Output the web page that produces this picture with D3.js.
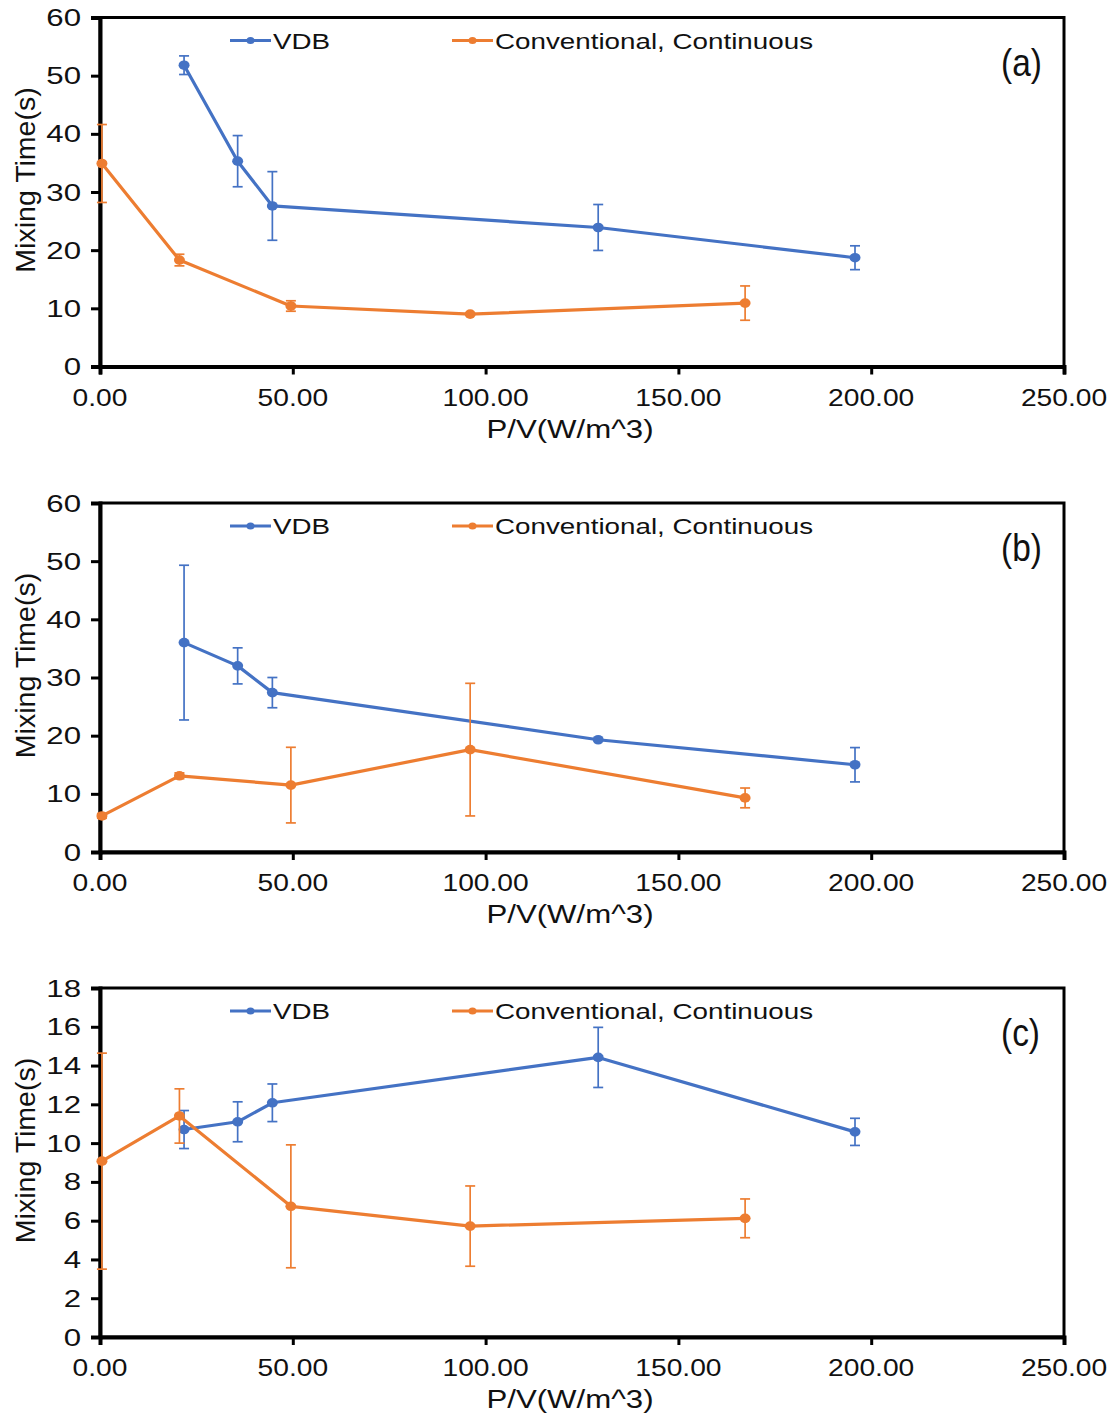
<!DOCTYPE html>
<html>
<head>
<meta charset="utf-8">
<script src="https://cdn.jsdelivr.net/npm/d3@7"></script>
<style>
  html, body { margin: 0; padding: 0; background: #fff; }
  svg { display: block; }
  text { font-family: "Liberation Sans", Arial, Helvetica, sans-serif; fill: #111; }
</style>
</head>
<body>
<svg id="chart" width="1110" height="1417"></svg>
<script>
// Power per volume (W/m^3) for each series
const powerVDB  = [21.8, 35.7, 44.7, 129.2, 195.8];
const powerConv = [0.5, 20.6, 49.5, 96.0, 167.3];

// Panel (a)
const vdbA     = [51.8, 35.3, 27.6, 23.9, 18.7];
const vdbErrA  = [1.6, 4.4, 5.9, 3.95, 2.05];
const convA    = [34.9, 18.3, 10.4, 9.0, 10.9];
const convErrA = [6.7, 1.0, 0.9, 0, 2.95];

// Panel (b)
const vdbB     = [36.0, 32.0, 27.4, 19.3, 15.0];
const vdbErrB  = [13.3, 3.1, 2.6, 0, 2.95];
const convB    = [6.2, 13.1, 11.5, 17.6, 9.3];
const convErrB = [0.4, 0.5, 6.5, 11.4, 1.7];

// Panel (c)
const vdbC     = [10.7, 11.1, 12.08, 14.42, 10.58];
const vdbErrC  = [0.98, 1.03, 0.97, 1.55, 0.7];
const convC    = [9.07, 11.4, 6.74, 5.72, 6.12];
const convErrC = [5.57, 1.4, 3.17, 2.07, 1.0];

const panelLabels = ["(a)", "(b)", "(c)"];
const yMaxes      = [60, 60, 18];
const yTickSteps  = [10, 10, 2];
const xTicks      = [0, 50, 100, 150, 200, 250];
const seriesNames = ["VDB", "Conventional, Continuous"];
const xTitle = "P/V(W/m^3)";
const yTitle = "Mixing Time(s)";

const colors = { vdb: "#4472C4", conv: "#ED7D31" };

const panels = [
  { vdb: vdbA, vdbErr: vdbErrA, conv: convA, convErr: convErrA },
  { vdb: vdbB, vdbErr: vdbErrB, conv: convB, convErr: convErrB },
  { vdb: vdbC, vdbErr: vdbErrC, conv: convC, convErr: convErrC }
];

const svg = d3.select("#chart");
const left = 100, right = 1064;
const panelTops = [17.5, 503, 988];
const plotH = 349;
const SX = 1.2; // horizontal widening of the label type

// place a horizontally-widened text
function wideText(g, x, y, str, size, anchor, sx) {
  return g.append("text")
    .attr("transform", `translate(${x},${y}) scale(${sx === undefined ? SX : sx},1)`)
    .attr("text-anchor", anchor || "start")
    .style("font-size", size + "px")
    .text(str);
}

const x = d3.scaleLinear().domain([0, 250]).range([left, right]);

panels.forEach((p, i) => {
  const top = panelTops[i], bottom = top + plotH;
  const y = d3.scaleLinear().domain([0, yMaxes[i]]).range([bottom, top]);
  const g = svg.append("g");

  // frame
  g.append("rect").attr("x", left).attr("y", top)
    .attr("width", right - left).attr("height", plotH)
    .attr("fill", "#fff").attr("stroke", "#000").attr("stroke-width", 3);

  // x axis
  const xAxis = d3.axisBottom(x).tickValues(xTicks).tickSize(8).tickFormat(() => "");
  const xg = g.append("g").attr("transform", `translate(0,${bottom})`).call(xAxis);
  xg.select(".domain").attr("stroke", "#000").attr("stroke-width", 4);
  xg.selectAll(".tick line").attr("stroke", "#000").attr("stroke-width", 3);
  xTicks.forEach(t => wideText(g, x(t), bottom + 39, d3.format(".2f")(t), 23.5, "middle"));

  // y axis
  const yTicks = d3.range(0, yMaxes[i] + 0.001, yTickSteps[i]);
  const yAxis = d3.axisLeft(y).tickValues(yTicks).tickSize(9).tickFormat(() => "");
  const yg = g.append("g").attr("transform", `translate(${left},0)`).call(yAxis);
  yg.select(".domain").attr("stroke", "#000").attr("stroke-width", 4);
  yg.selectAll(".tick line").attr("stroke", "#000").attr("stroke-width", 3);
  yTicks.forEach(t => wideText(g, 81, y(t) + 8.5, String(t), 24, "end", 1.3));

  // axis titles
  wideText(g, 570, bottom + 71, xTitle, 26, "middle");
  g.append("text")
    .attr("transform", `translate(25,${(top + bottom) / 2 - 12}) rotate(-90)`)
    .attr("text-anchor", "middle")
    .attr("dominant-baseline", "central")
    .style("font-size", "28.5px")
    .text(yTitle);

  // panel label
  wideText(g, 1001, top + 58, panelLabels[i], 38, "start", 0.88);

  // series
  const series = [
    { xs: powerVDB, ys: p.vdb, es: p.vdbErr, color: colors.vdb },
    { xs: powerConv, ys: p.conv, es: p.convErr, color: colors.conv }
  ];
  const line = d3.line().x(d => x(d[0])).y(d => y(d[1]));
  series.forEach(s => {
    const pts = s.xs.map((v, k) => [v, s.ys[k], s.es[k]]);
    g.append("path").datum(pts).attr("d", line)
      .attr("fill", "none").attr("stroke", s.color).attr("stroke-width", 3.2)
      .attr("stroke-linejoin", "round");
    const eb = g.append("g").attr("stroke", s.color).attr("stroke-width", 1.7);
    pts.filter(d => d[2] > 0).forEach(d => {
      const cx = x(d[0]), y1 = y(d[1] + d[2]), y2 = y(d[1] - d[2]);
      eb.append("line").attr("x1", cx).attr("x2", cx).attr("y1", y1).attr("y2", y2);
      eb.append("line").attr("x1", cx - 5).attr("x2", cx + 5).attr("y1", y1).attr("y2", y1);
      eb.append("line").attr("x1", cx - 5).attr("x2", cx + 5).attr("y1", y2).attr("y2", y2);
    });
    g.selectAll(null).data(pts).enter().append("ellipse")
      .attr("cx", d => x(d[0])).attr("cy", d => y(d[1]))
      .attr("rx", 5.5).attr("ry", 4.8).attr("fill", s.color);
  });

  // legend
  const ly = top + 23;
  const legendItems = [
    { name: seriesNames[0], color: colors.vdb, x0: 230 },
    { name: seriesNames[1], color: colors.conv, x0: 452 }
  ];
  legendItems.forEach(it => {
    g.append("line").attr("x1", it.x0).attr("x2", it.x0 + 41)
      .attr("y1", ly).attr("y2", ly)
      .attr("stroke", it.color).attr("stroke-width", 3);
    g.append("ellipse").attr("cx", it.x0 + 20.5).attr("cy", ly)
      .attr("rx", 4).attr("ry", 3.5).attr("fill", it.color);
    wideText(g, it.x0 + 43, ly + 8, it.name, 22.5, "start", 1.235);
  });
});
</script>
</body>
</html>
